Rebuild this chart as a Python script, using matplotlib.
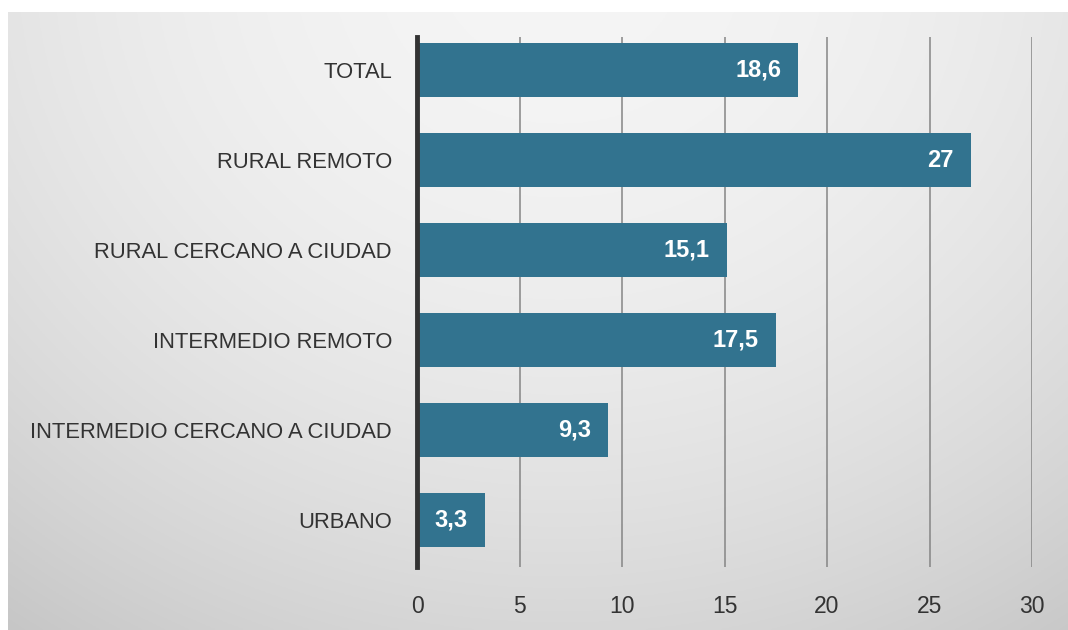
import numpy as np
import matplotlib
matplotlib.use("Agg")
import matplotlib.pyplot as plt
from matplotlib import font_manager

categories = ["TOTAL", "RURAL REMOTO", "RURAL CERCANO A CIUDAD", "INTERMEDIO REMOTO",
              "INTERMEDIO CERCANO A CIUDAD", "URBANO"]
values = [18.6, 27, 15.1, 17.5, 9.3, 3.3]
xticks = [0, 5, 10, 15, 20, 25, 30]

names = {f.name for f in font_manager.fontManager.ttflist}
narrow = "Liberation Sans Narrow" in names
fam = ["Liberation Sans Narrow", "DejaVu Sans"] if narrow else ["Liberation Sans", "DejaVu Sans"]
plt.rcParams['font.family'] = fam
cat_size = 18.5 if narrow else 15.8
tick_size = 18 if narrow else 16.5

W, H = 1068, 630
fig = plt.figure(figsize=(W / 100, H / 100), dpi=100)
fig.patch.set_facecolor("white")

# background gradient panel
bx0, by_top = 8, 12
bg = fig.add_axes([bx0 / W, 0, 1 - bx0 / W, 1 - by_top / H])
bg.set_axis_off()
xs = np.linspace(bx0, W, 400)
ys = np.linspace(by_top, H, 300)
X, Y = np.meshgrid(xs, ys)
r2 = ((X - 560) / 900) ** 2 + ((Y + 40) / 800) ** 2
v = np.clip(0.96 - 0.17 * r2, 0, 1)
bg.imshow(np.dstack([v, v, v]), aspect="auto", extent=[0, 1, 0, 1], origin="upper")
bg.set_zorder(-1)

ax = fig.add_axes([417 / W, 1 - 567 / H, (1032 - 417) / W, (567 - 37) / H])
ax.set_facecolor("none")
y = np.arange(len(categories))
ax.barh(y, values, height=0.6, color="#32738f", zorder=3)
ax.set_ylim(5.522, -0.367)
ax.set_xlim(0, 30)
ax.set_xticks(xticks)
ax.set_xticklabels([str(t) for t in xticks])
ax.set_yticks(y)
ax.set_yticklabels(categories)
ax.tick_params(axis="both", length=0, colors="#333333")
ax.tick_params(axis="y", pad=18, labelsize=cat_size)
ax.tick_params(axis="x", pad=20, labelsize=tick_size)
ax.grid(axis="x", color="#858585", linewidth=1.1, zorder=0)
ax.set_axisbelow(True)
for s in ["top", "right", "bottom"]:
    ax.spines[s].set_visible(False)
ax.spines["left"].set_linewidth(3.5)
ax.spines["left"].set_color("#333333")
ax.spines["left"].set_zorder(5)

for yi, val in zip(y, values):
    lab = (f"{val:g}").replace(".", ",")
    ax.annotate(lab, xy=(val, yi), xytext=(-17, 0), textcoords="offset pixels",
                ha="right", va="center", color="white", fontsize=17, fontweight="bold", zorder=4)

fig.savefig("out.png", dpi=100)
